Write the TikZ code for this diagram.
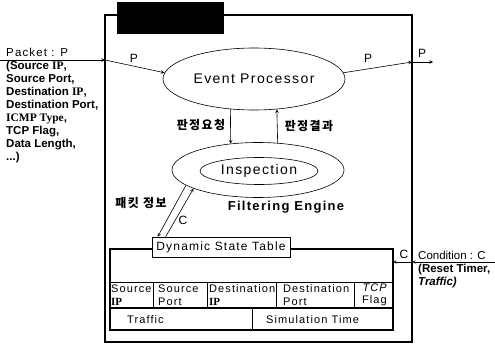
\documentclass[tikz,border=0pt]{standalone}
\usepackage{fontspec}
\setmainfont{Liberation Sans}
\newfontfamily\spacedsf{Liberation Sans}[LetterSpace=10]
\newfontfamily\serifb{Liberation Serif}
\newfontfamily\korean{Noto Sans CJK KR}[LetterSpace=12]
\usetikzlibrary{shapes.geometric,arrows,positioning}
\tikzset
{
    procnode/.style  = {ellipse, draw=black, line width=0.6pt, inner sep=0pt, font=\spacedsf\fontsize{14}{16}\selectfont},
    tablenode/.style = {rectangle, draw=black, line width=0.6pt, fill=white, inner sep=0pt, font=\spacedsf\fontsize{12}{14}\selectfont},
    cellnode/.style  = {inner sep=0pt, align=left, anchor=west, font=\spacedsf\fontsize{11}{12.5}\selectfont},
    labelnode/.style = {inner sep=0pt, font=\spacedsf\fontsize{12}{14}\selectfont},
    hangul/.style    = {inner sep=0pt, font=\korean\bfseries\fontsize{12}{14}\selectfont},
    infonode/.style  = {inner sep=0pt, align=left, anchor=north west, font=\bfseries\fontsize{11.5}{13}\selectfont},
    arrow/.style     = {->, >=stealth, line width=0.6pt},
    frameline/.style = {line width=1.8pt},
    tableline/.style = {line width=0.6pt}
}

\begin{document}
\begin{tikzpicture}[x=1pt, y=-1pt]
   \useasboundingbox (0,0) rectangle (495,345);

   % engine frame with its (blacked out) title
   \draw[frameline] (105,15) rectangle (412,342);
   \fill (117,2) rectangle (224,34);

   \node (ep)   [procnode, minimum width=182pt, minimum height=62pt]   at (254,79)    {Event Processor};
   \node (eng)  [procnode, minimum width=172pt, minimum height=55pt]   at (258,170)   {};
   \node (ins)  [procnode, minimum width=118pt, minimum height=27pt]   at (259,171)   {Inspection};
   \node (fe)   [labelnode, font=\spacedsf\bfseries\fontsize{13}{15}\selectfont] at (286,207) {Filtering Engine};

   % state table
   \draw[line width=1.6pt] (110,249) rectangle (393,330);
   \draw[tableline] (110,282) -- (393,282);
   \draw[line width=1.2pt] (110,308) -- (393,308);
   \foreach \cx in {153,207,276,354}
      \draw[tableline] (\cx,282) -- (\cx,308);
   \draw[tableline] (252,308) -- (252,330);

   \node (dst)  [tablenode, minimum width=138pt, minimum height=20pt]  at (221,247)   {Dynamic State Table};
   \node (sip)  [cellnode]                      at (111,295)   {Source\\{\serifb\bfseries IP}};
   \node (spt)  [cellnode]                      at (158,295)   {Source\\Port};
   \node (dip)  [cellnode]                      at (209,295)   {Destination\\{\serifb\bfseries IP}};
   \node (dpt)  [cellnode]                      at (283,295)   {Destination\\Port};
   \node (tcp)  [cellnode, anchor=east, align=right] at (387,295) {{\itshape TCP}\\Flag};
   \node (trf)  [cellnode]                      at (127,320)   {Traffic};
   \node (sim)  [cellnode]                      at (266,320)   {Simulation Time};

   % packet in / out
   \node (pk)   [labelnode, anchor=west, font=\spacedsf\fontsize{11.5}{13}\selectfont] at (6,52) {Packet : P};
   \node (pinfo)[infonode]                      at (6,61)      {(Source {\serifb IP},\\Source Port,\\Destination {\serifb IP},\\Destination Port,\\{\serifb ICMP Type},\\TCP Flag,\\Data Length,\\...)};
   \node (p1)   [labelnode]                     at (134,58)    {P};
   \node (p2)   [labelnode]                     at (368,58)    {P};
   \node (p3)   [labelnode]                     at (422,53)    {P};

   \coordinate (pin)  at (0,60);
   \coordinate (fin)  at (105,60);
   \coordinate (fout) at (412,62);
   \coordinate (pout) at (433,62);

   % condition in
   \node (cond) [infonode]                      at (418,251)   {{\mdseries Condition : C}\\(Reset Timer,\\{\itshape Traffic)}};
   \node (cr)   [labelnode]                     at (404,254)   {C};
   \coordinate (cin)  at (495,262);
   \coordinate (fcn)  at (412,262);
   \coordinate (tbr)  at (393,262);

   \node (req)  [hangul]                        at (201,125)   {판정요청};
   \node (res)  [hangul]                        at (309,126)   {판정결과};
   \node (pkt)  [hangul]                        at (141,203)   {패킷 정보};
   \node (cl)   [labelnode]                     at (183,220)   {C};

   \path
      (pin)      edge[arrow]  (fin)
      (fin)      edge[arrow]  (ep.176)
      (ep.4)     edge[arrow]  (fout)
      (fout)     edge[arrow]  (pout)
      (ep.232.5) edge[arrow]  (eng.136.5)
      (eng.54.7) edge[arrow]  (ep.307.5)
      (eng.192)  edge[arrow]  ([xshift=6pt]dst.north west)
      ([xshift=14pt]dst.north west) edge[arrow] (eng.196)
      (cin)      edge[arrow]  (fcn)
      (fcn)      edge[arrow]  (tbr);
\end{tikzpicture}
\end{document}
